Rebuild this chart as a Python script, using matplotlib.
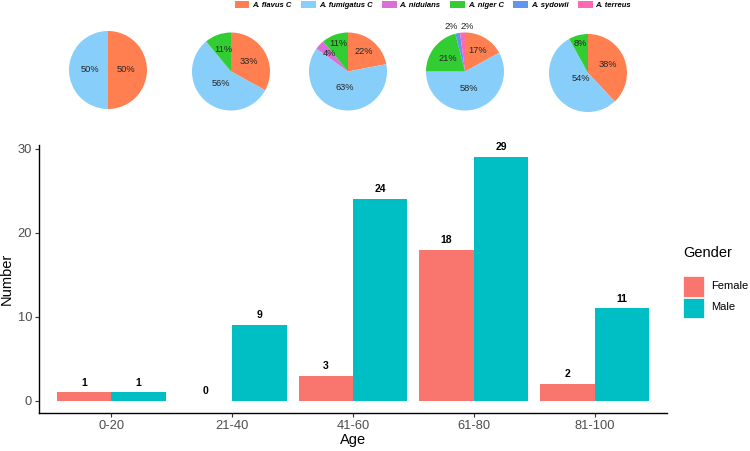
import matplotlib
matplotlib.use("Agg")
import matplotlib.pyplot as plt
from matplotlib.patches import Patch, Rectangle
import numpy as np

plt.rcParams["font.family"] = ["Liberation Sans", "DejaVu Sans"]

# ---- data ----
age_groups = ["0-20", "21-40", "41-60", "61-80", "81-100"]
female = [1, 0, 3, 18, 2]
male = [1, 9, 24, 29, 11]

species = ["A. flavus C", "A. fumigatus C", "A. nidulans", "A. niger C", "A. sydowii", "A. terreus"]
pie_pcts = [
    [50, 50, 0, 0, 0, 0],
    [33, 56, 0, 11, 0, 0],
    [22, 63, 4, 11, 0, 0],
    [17, 58, 0, 21, 2, 2],
    [38, 54, 0, 8, 0, 0],
]
species_colors = ["#FF7F50", "#87CEFA", "#DA70D6", "#32CD32", "#6495ED", "#FF69B4"]
gender_colors = ["#F8766D", "#00BFC4"]

# layout: label radius (fraction of pie radius) for each non-zero slice label
label_radii = [
    [0.45, 0.45],
    [0.52, 0.40, 0.60],
    [0.65, 0.41, 0.67, 0.76],
    [0.62, 0.44, 0.56, 1.15, 1.15],
    [0.56, 0.22, 0.78],
]

W, H = 750, 451
fig = plt.figure(figsize=(7.5, 4.51), dpi=100)

# ---- bar chart ----
ax = fig.add_axes([39 / W, 1 - 413 / H, (667 - 39) / W, (413 - 145) / H])
x = np.arange(len(age_groups))
bw = 0.45
b1 = ax.bar(x - bw / 2, female, width=bw, color=gender_colors[0], label="Female")
b2 = ax.bar(x + bw / 2, male, width=bw, color=gender_colors[1], label="Male")
for bars, vals in ((b1, female), (b2, male)):
    for r, v in zip(bars, vals):
        ax.annotate(str(v), (r.get_x() + r.get_width() / 2, v), xytext=(0, 3.5),
                    textcoords="offset points", ha="center", va="bottom",
                    fontsize=7.5, fontweight="bold", color="black")
ymax = max(max(female), max(male))
ax.set_ylim(-0.05 * ymax, ymax * 1.05)
ax.set_xlim(-0.6, len(age_groups) - 0.4)
ax.set_xticks(x)
ax.set_xticklabels(age_groups)
ax.set_yticks([0, 10, 20, 30])
for s in ("top", "right"):
    ax.spines[s].set_visible(False)
for s in ("left", "bottom"):
    ax.spines[s].set_linewidth(1.0)
    ax.spines[s].set_color("black")
ax.tick_params(axis="both", length=3, width=0.8, color="#333333", pad=2,
               labelsize=9.3, labelcolor="#4D4D4D")
ax.set_xlabel("Age", fontsize=10.5, color="black", labelpad=1)
ax.set_ylabel("Number", fontsize=10.5, color="black", labelpad=3)

# ---- gender legend (drawn manually, ggplot style) ----
fig.text(683 / W, 1 - 253 / H, "Gender", fontsize=10.5, ha="left", va="center", color="black")
for i, (lab, col) in enumerate(zip(["Female", "Male"], gender_colors)):
    y0 = 276 + i * 21.5
    fig.patches.append(Rectangle((683 / W, 1 - (y0 + 20.5) / H), 20.5 / W, 20.5 / H,
                                 transform=fig.transFigure, facecolor=col, edgecolor="white",
                                 linewidth=0.5))
    fig.text(711 / W, 1 - (y0 + 10) / H, lab, fontsize=8, ha="left", va="center",
             color="black")

# ---- pies ----
centers = [(108, 70), (231, 71.5), (348, 71.5), (465, 71.5), (588, 73)]
R = 39
for (cx, cy), pcts, radii in zip(centers, pie_pcts, label_radii):
    pax = fig.add_axes([(cx - R) / W, 1 - (cy + R) / H, 2 * R / W, 2 * R / H])
    vals = [p for p in pcts if p > 0]
    cols = [c for p, c in zip(pcts, species_colors) if p > 0]
    pax.pie(vals, colors=cols, startangle=90, counterclock=False, radius=1,
            wedgeprops=dict(linewidth=0))
    cum = 0
    tiny = []
    for v, rr in zip(vals, radii):
        mid = (cum + v / 2) / 100 * 2 * np.pi
        cum += v
        if rr > 1:
            tiny.append((v, rr, np.sin(mid)))
            continue
        pax.text(rr * np.sin(mid), rr * np.cos(mid), f"{v}%", ha="center", va="center",
                 fontsize=6.7, color="#262626", clip_on=False)
    if tiny:
        # spread small outside labels horizontally so they do not collide
        n = len(tiny)
        xm = np.mean([t[2] for t in tiny]) * tiny[0][1]
        for k, (v, rr, _) in enumerate(tiny):
            xx = xm + (k - (n - 1) / 2) * 0.42
            pax.text(xx, rr, f"{v}%", ha="center", va="center",
                     fontsize=6.7, color="#262626", clip_on=False)
    pax.set_xlim(-1, 1)
    pax.set_ylim(-1, 1)
    pax.set_aspect("equal")
    pax.axis("off")

# ---- species legend ----
handles = [Patch(facecolor=c, edgecolor="none") for c in species_colors]
fig.legend(handles, species, loc="center", bbox_to_anchor=(433 / W, 1 - 5 / H), ncol=6,
           frameon=False, prop=dict(family="Liberation Sans", size=5.5, style="italic",
                                    weight="bold"),
           handlelength=1.9, handleheight=1.0, handletextpad=0.4, columnspacing=1.25,
           borderaxespad=0, borderpad=0)

fig.savefig("out.png", dpi=100)
